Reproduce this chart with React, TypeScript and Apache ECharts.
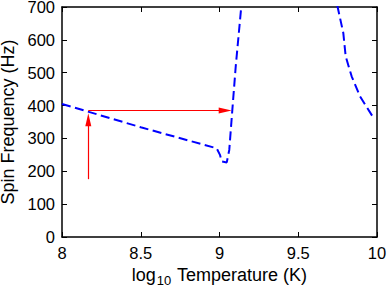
import React, { useEffect, useRef } from "react";
import * as echarts from "echarts";

// Lower branch (below resonance), log10 T vs spin frequency
const lowX = [8, 8.5, 8.982, 9.003, 9.014, 9.046, 9.062, 9.081, 9.103, 9.138, 9.15];
const lowY = [405, 334, 270, 250, 230, 227, 265, 384, 519, 700, 780];
// Upper branch (above resonance)
const highX = [9.73, 9.75, 9.786, 9.801, 9.839, 9.892, 9.972];
const highY = [745, 700, 621, 550, 489, 428, 367];

// Red arrows
const arrowX = 8.167;
const arrowBottomY = 176;
const arrowTopY = 357;
const arrowLevelY = 385;
const arrowRightX = 9.036;

const xTicks = [8, 8.5, 9, 9.5, 10];
const yTicks = [0, 100, 200, 300, 400, 500, 600, 700];

const FONT = "Liberation Sans, Arial, Helvetica, sans-serif";

export default function App() {
  const ref = useRef<HTMLDivElement>(null);
  useEffect(() => {
    if (!ref.current) return;
    const chart = echarts.init(ref.current, null, { renderer: "svg" });
    const axisLine = () => ({ show: true, onZero: false, lineStyle: { color: "#000", width: 1.5 } });
    const tick = () => ({ show: true, inside: true, length: 5, lineStyle: { color: "#000", width: 1 } });
    const lineStyle = () => ({ color: "#0000ff", width: 2, type: [9, 4.5] as any });
    chart.setOption({
      animation: false,
      grid: { left: 62, right: 11, top: 7, bottom: 50, outerBoundsMode: "none", containLabel: false },
      xAxis: [
        {
          type: "value",
          min: xTicks[0],
          max: xTicks[xTicks.length - 1],
          interval: 0.5,
          axisLine: axisLine(),
          axisTick: tick(),
          splitLine: { show: false },
          axisLabel: { color: "#000", fontSize: 16.5, fontFamily: FONT, margin: 7 },
          name: "log{sub|10} Temperature (K)",
          nameLocation: "middle",
          nameGap: 24,
          nameTextStyle: {
            color: "#000",
            fontSize: 18,
            fontFamily: FONT,
            rich: {
              sub: { fontSize: 13, fontFamily: FONT, color: "#000", padding: [12, 1, 0, 1] },
            },
          },
        },
        {
          type: "value",
          position: "top",
          min: xTicks[0],
          max: xTicks[xTicks.length - 1],
          interval: 0.5,
          axisLine: axisLine(),
          axisTick: tick(),
          axisLabel: { show: false },
          splitLine: { show: false },
        },
      ],
      yAxis: [
        {
          type: "value",
          min: yTicks[0],
          max: yTicks[yTicks.length - 1],
          interval: 100,
          axisLine: axisLine(),
          axisTick: tick(),
          splitLine: { show: false },
          axisLabel: { color: "#000", fontSize: 16.5, lineHeight: 14, fontFamily: FONT, margin: 7 },
          name: "Spin Frequency (Hz)",
          nameLocation: "middle",
          nameGap: 44,
          nameTextStyle: { color: "#000", fontSize: 18, lineHeight: 18, fontFamily: FONT },
        },
        {
          type: "value",
          position: "right",
          min: yTicks[0],
          max: yTicks[yTicks.length - 1],
          interval: 100,
          axisLine: axisLine(),
          axisTick: tick(),
          axisLabel: { show: false },
          splitLine: { show: false },
        },
      ],
      series: [
        {
          type: "line",
          data: lowX.map((x, i) => [x, lowY[i]]),
          showSymbol: false,
          symbol: "none",
          lineStyle: lineStyle(),
          clip: true,
          markLine: {
            silent: true,
            symbol: ["none", "triangle"],
            symbolSize: [6, 13],
            label: { show: false },
            itemStyle: { color: "#ff0000" },
            lineStyle: { color: "#ff0000", width: 1.2, type: "solid" },
            data: [
              [{ coord: [arrowX, arrowBottomY] }, { coord: [arrowX, arrowTopY] }],
              [{ coord: [arrowX, arrowLevelY] }, { coord: [arrowRightX, arrowLevelY] }],
            ],
          },
        },
        {
          type: "line",
          data: highX.map((x, i) => [x, highY[i]]),
          showSymbol: false,
          symbol: "none",
          lineStyle: lineStyle(),
          clip: true,
        },
      ],
    });
    return () => chart.dispose();
  }, []);
  return (
    <div
      ref={ref}
      style={{ position: "absolute", left: 0, top: 0, width: 388, height: 287 }}
    />
  );
}
